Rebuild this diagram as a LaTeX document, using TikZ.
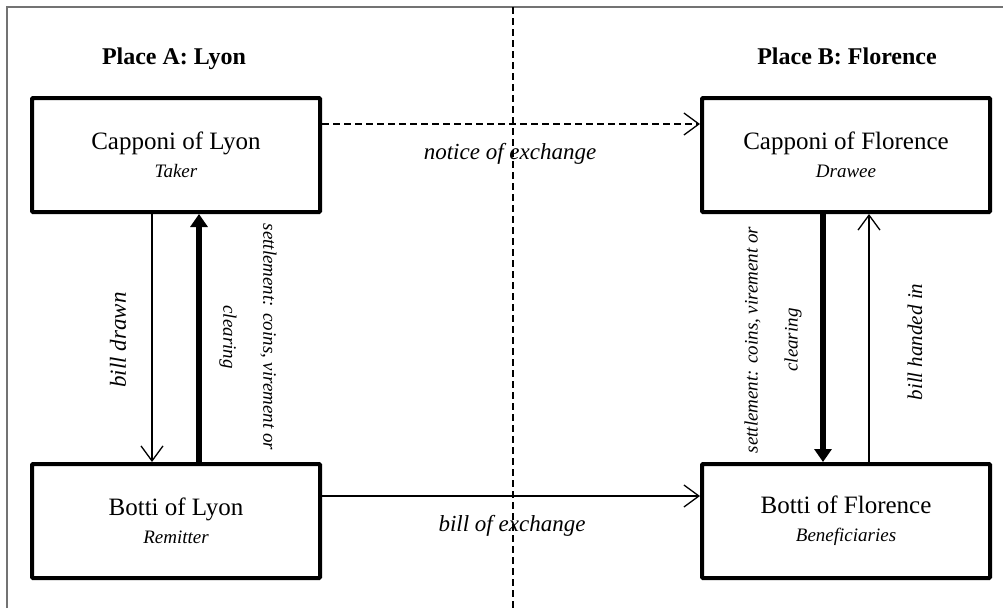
\documentclass[tikz,border=0pt]{standalone}
\usepackage{fontspec}
\setmainfont{Liberation Serif}
\usetikzlibrary{arrows.meta,calc}
\newcommand\partyfont{\fontsize{25}{30}\selectfont}
\newcommand\rolefont{\fontsize{19}{22}\selectfont\itshape}
\begin{document}
\begin{tikzpicture}[x=1pt,y=-1pt,
  party/.style={draw, line width=4pt, rounded corners=1pt, minimum width=288pt,
    minimum height=114pt, inner sep=0pt, align=center, font=\partyfont},
  place/.style={font=\fontsize{24}{28}\selectfont\bfseries, anchor=base},
  flowlabel/.style={font=\fontsize{23}{28}\selectfont\itshape},
  sidelabel/.style={font=\fontsize{19}{40}\selectfont\itshape, align=center},
  billarrow/.style={line width=1.3pt, -{Straight Barb[length=15pt,width=22pt]}},
  payarrow/.style={line width=5.5pt, -{Triangle[length=13pt,width=17pt]}},
  divider/.style={line width=1.3pt, dash pattern=on 7pt off 4pt},
  frameline/.style={draw=black!55, line width=1.3pt}]
\useasboundingbox (0,0) rectangle (1003,608);

% page frame (top and left edges)
\draw[frameline] (7,608) -- (7,7) -- (1003,7);

% boundary between the two places
\coordinate (divtop) at (513,7);
\coordinate (divbot) at (513,608);
\draw[divider] (divtop) -- (divbot);

% place headings
\node[place] (placeA) at (174,64) {Place A: Lyon};
\node[place] (placeB) at (847,64) {Place B: Florence};

% the four parties
\node[party] (cl) at (176,155) {Capponi of Lyon\\[-2pt]\rolefont Taker};
\node[party] (bl) at (176,521) {Botti of Lyon\\[-2pt]\rolefont Remitter};
\node[party] (cf) at (846,155) {Capponi of Florence\\[-2pt]\rolefont Drawee};
\node[party] (bf) at (846,521) {Botti of Florence\\[-2pt]\rolefont Beneficiaries};

% between the places
\draw[billarrow, dash pattern=on 7pt off 4pt] ($(cl.east)+(0,-31)$) -- ($(cf.west)+(0,-31)$);
\node[flowlabel] (notice) at (510,154) {notice of exchange};
\draw[billarrow] ($(bl.east)+(0,-25)$) -- ($(bf.west)+(0,-25)$);
\node[flowlabel] (billex) at (512,526) {bill of exchange};

% within Lyon
\draw[billarrow] ($(cl.south)+(-24,0)$) -- ($(bl.north)+(-24,0)$);
\draw[payarrow] ($(bl.north)+(23,0)$) -- ($(cl.south)+(23,0)$);
\node[flowlabel, rotate=90] (drawn) at (118,340) {bill drawn};
\node[sidelabel, rotate=-90] (settleA) at (248,337) {settlement: coins, virement or\\clearing};

% within Florence
\draw[payarrow] ($(cf.south)+(-23,0)$) -- ($(bf.north)+(-23,0)$);
\draw[billarrow] ($(bf.north)+(23,0)$) -- ($(cf.south)+(23,0)$);
\node[sidelabel, rotate=90] (settleB) at (773,340) {settlement: coins, virement or\\clearing};
\node[flowlabel, rotate=90, font=\fontsize{21}{26}\selectfont\itshape] (handed) at (915,342) {bill handed in};
\end{tikzpicture}
\end{document}
